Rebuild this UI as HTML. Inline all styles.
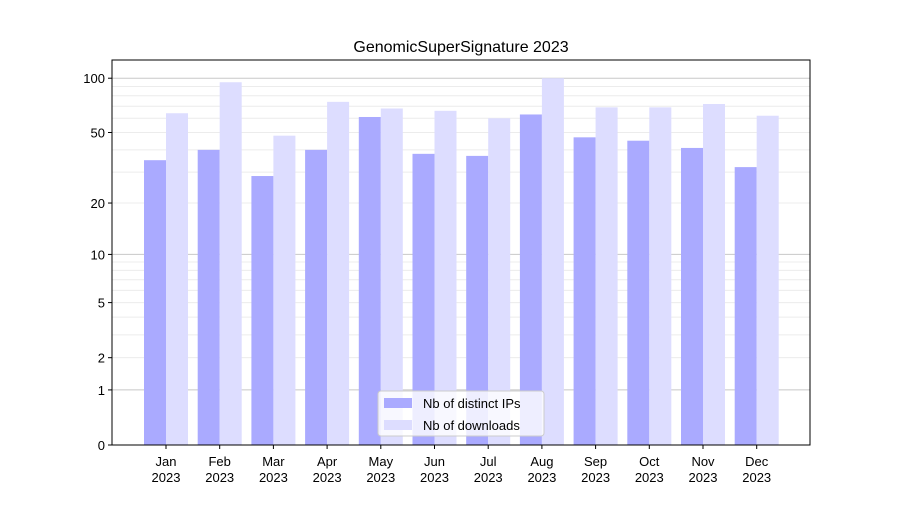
<!DOCTYPE html>
<html><head><meta charset="utf-8"><style>
body{margin:0;background:#fff;}
svg text{font-family:"Liberation Sans","DejaVu Sans",sans-serif;}
</style></head><body>
<svg id="chart" width="900" height="500" xmlns="http://www.w3.org/2000/svg">
<rect width="900" height="500" fill="#fff"/>
<text x="461" y="52" font-size="16" text-anchor="middle">GenomicSuperSignature 2023</text>
<g id="grid"></g><g id="bars"></g><g id="axes"></g>
</svg>
<script>
const months=["Jan","Feb","Mar","Apr","May","Jun","Jul","Aug","Sep","Oct","Nov","Dec"];
const distinctIPs=[35,40,28.5,40,61,38,37,63,47,45,41,32];
const downloads=[64,95,48,74,68,66,60,100,69,69,72,62];
const yTickLabels=[0,1,2,5,10,20,50,100];
const NS="http://www.w3.org/2000/svg";
const svg=document.getElementById('chart');
const L=112,R=810,T=60,B=445;
function y(v){return B-183*Math.log10(1+v);}
const step=(R-L)/12.05, x0=166;
function xc(i){return x0+i*53.7;}
function mk(tag,attrs,parent){const e=document.createElementNS(NS,tag);for(const k in attrs)e.setAttribute(k,attrs[k]);parent.appendChild(e);return e;}
const grid=document.getElementById('grid');
[1,2,3,4,5,6,7,8,9,10,20,30,40,50,60,70,80,90,100,200].forEach(v=>{
 if(y(v)<T)return;
 const major=(v===1||v===10||v===100);
 const g=mk('line',{x1:L,x2:R,y1:y(v),y2:y(v),stroke:major?'#c8c8c8':'#ececec','stroke-width':1},grid);
 
 
});
const bars=document.getElementById('bars');
months.forEach((m,i)=>{
 const c=xc(i);
 const b1=mk('rect',{x:c-22,y:y(distinctIPs[i]),width:22,height:B-y(distinctIPs[i]),fill:'#aaaaff'},bars);
 
 
 const b2=mk('rect',{x:c,y:y(downloads[i]),width:22,height:B-y(downloads[i]),fill:'#ddddff'},bars);
 
 
});
const ax=document.getElementById('axes');
const fr=mk('rect',{x:L,y:T,width:R-L,height:B-T,fill:'none',stroke:'#000','stroke-width':1},ax);


yTickLabels.forEach(v=>{
 mk('line',{x1:L-4,x2:L,y1:y(v),y2:y(v),stroke:'#000'},ax);
 const t=mk('text',{x:L-7,y:y(v)+5,'font-size':13,'text-anchor':'end'},ax);
 t.textContent=v;
 
 
});
months.forEach((m,i)=>{
 const c=xc(i);
 mk('line',{x1:c,x2:c,y1:B,y2:B+4,stroke:'#000'},ax);
 const t=mk('text',{x:c,y:466,'font-size':13,'text-anchor':'middle'},ax);
 t.textContent=m;
 
 
 const t2=mk('text',{x:c,y:482,'font-size':13,'text-anchor':'middle'},ax);
 t2.textContent='2023';
 
 
});
const lg=mk('g',{},ax);


mk('rect',{x:378,y:391,width:166,height:45,rx:3,fill:'#fff','fill-opacity':0.8,stroke:'#ccc'},lg);
[['#aaaaff','Nb of distinct IPs',398],['#ddddff','Nb of downloads',420]].forEach(([c,s,yy])=>{
 const r=mk('rect',{x:384,y:yy,width:28,height:10,fill:c},lg);
 
 
 const t=mk('text',{x:423,y:yy+10,'font-size':13},lg);
 t.textContent=s;
 
 
});
</script>
</body></html>
